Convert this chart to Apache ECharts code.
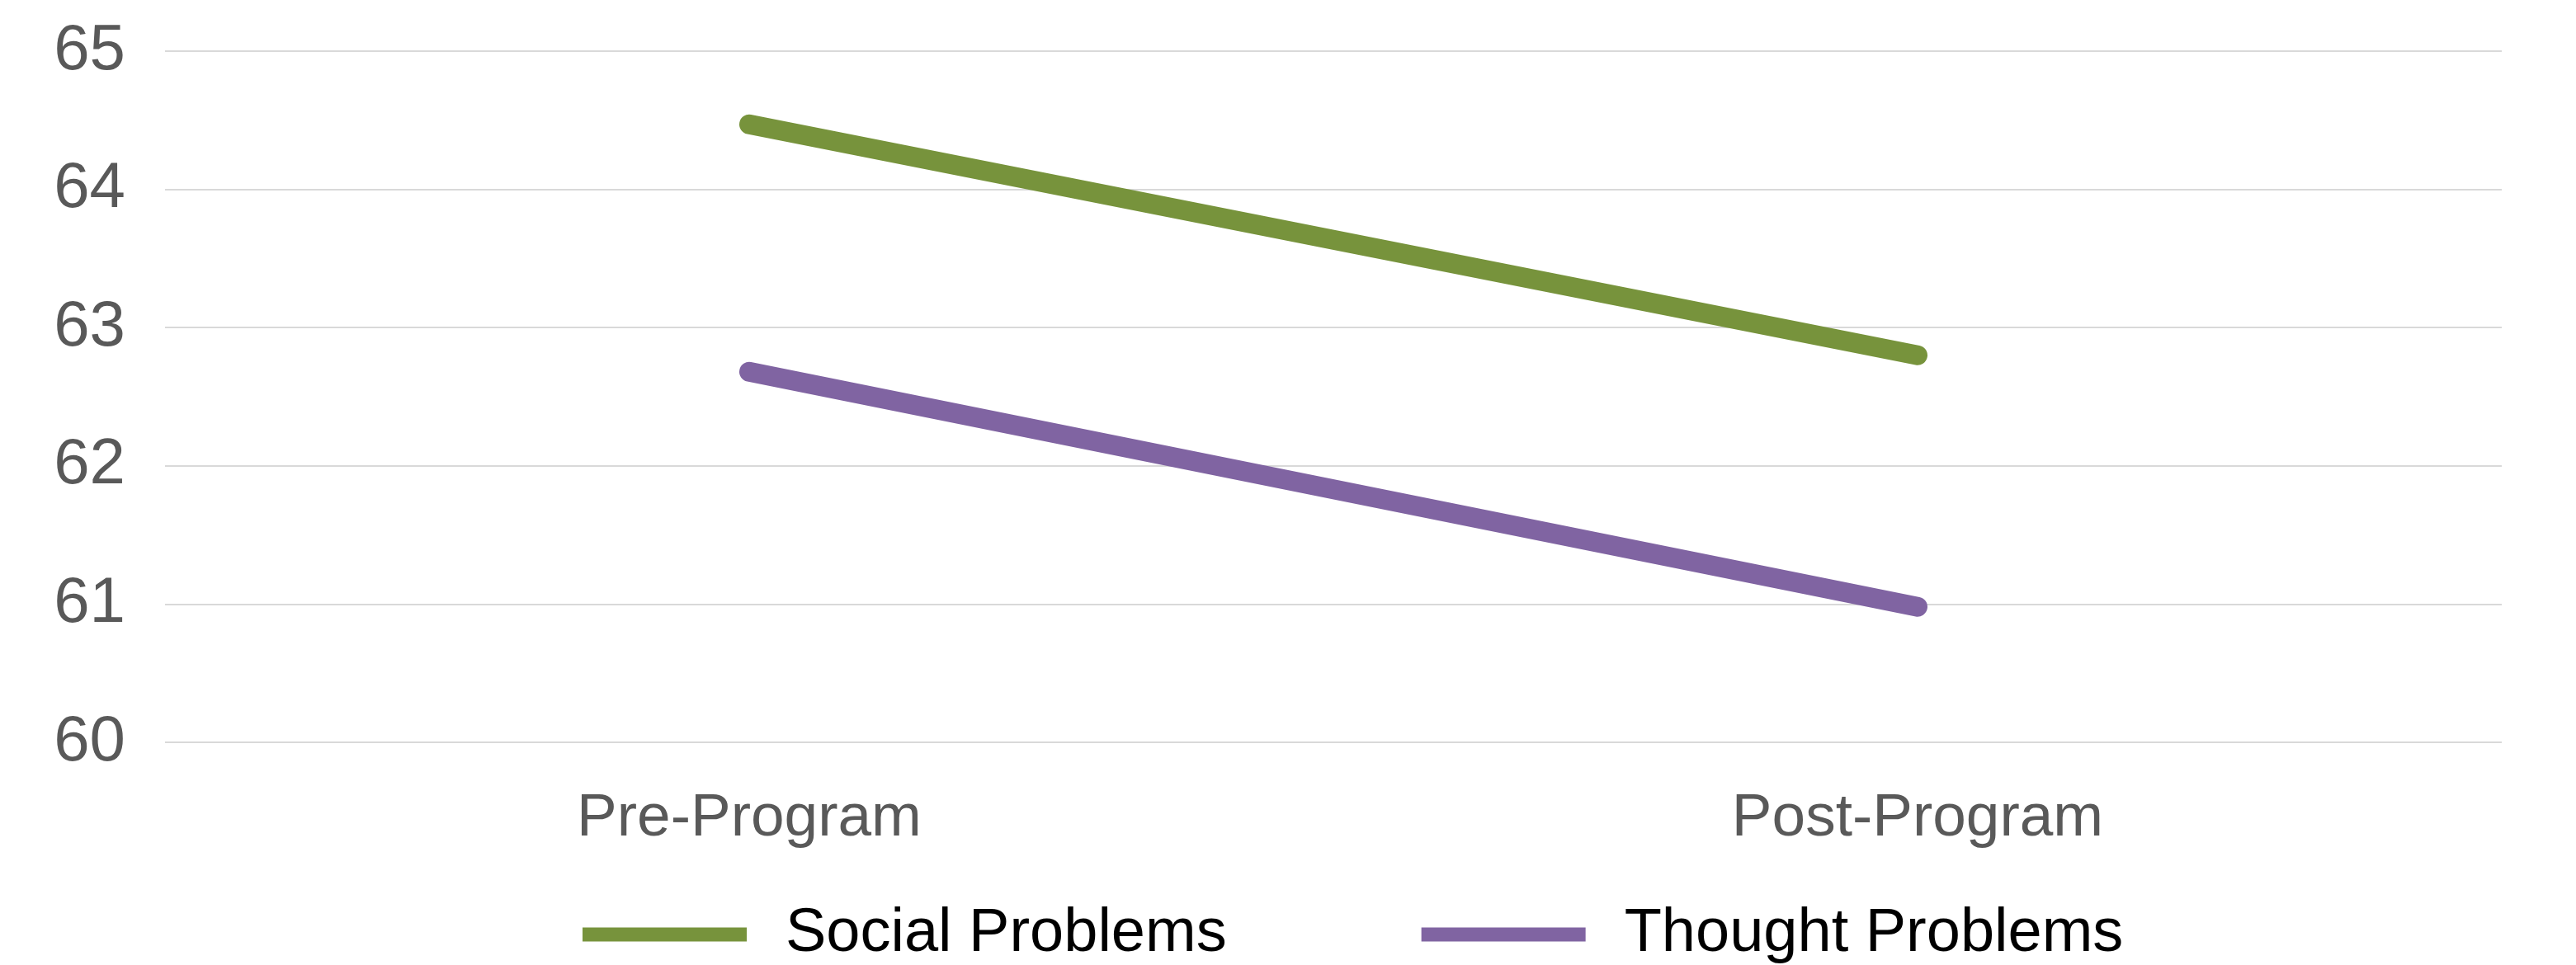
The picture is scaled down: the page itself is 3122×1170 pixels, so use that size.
<!DOCTYPE html>
<html>
<head>
<meta charset="utf-8">
<script src="https://cdn.jsdelivr.net/npm/echarts@6/dist/echarts.min.js"></script>
<style>
  html, body { margin: 0; padding: 0; background: #fff; }
  #chart { width: 3122px; height: 1170px; }
</style>
</head>
<body>
<div id="chart"></div>
<script>
var categories = ['Pre-Program', 'Post-Program'];
var socialProblems = [64.47, 62.8];
var thoughtProblems = [62.68, 60.98];
var seriesNames = ['Social Problems', 'Thought Problems'];

var fontFam = 'Arial, "Liberation Sans", sans-serif';
var myChart = echarts.init(document.getElementById('chart'));
var option = {
    backgroundColor: '#ffffff',
    color: ['#77933C', '#8064A2'],
    animation: false,
    grid: {
        left: 200,
        right: 90,
        top: 62,
        bottom: 270,
        containLabel: false
    },
    legend: {
        data: seriesNames,
        left: 706,
        top: 1096,
        padding: 0,
        icon: 'rect',
        itemWidth: 199,
        itemHeight: 17,
        itemGap: 236,
        textStyle: {
            color: '#000000',
            fontSize: 74,
            fontFamily: fontFam,
            padding: [0, 0, 0, 42]
        }
    },
    xAxis: {
        type: 'category',
        data: categories,
        boundaryGap: true,
        axisLine: { show: false },
        axisTick: { show: false },
        axisLabel: {
            color: '#595959',
            fontSize: 73,
            fontFamily: fontFam,
            margin: 56
        }
    },
    yAxis: {
        type: 'value',
        min: 60,
        max: 65,
        interval: 1,
        axisLine: { show: false },
        axisTick: { show: false },
        axisLabel: {
            color: '#595959',
            fontSize: 78,
            fontFamily: fontFam,
            margin: 48
        },
        splitLine: {
            lineStyle: { color: '#d9d9d9', width: 2 }
        }
    },
    series: [
        {
            name: seriesNames[0],
            type: 'line',
            data: socialProblems,
            symbol: 'none',
            lineStyle: { width: 24, cap: 'round', join: 'round' }
        },
        {
            name: seriesNames[1],
            type: 'line',
            data: thoughtProblems,
            symbol: 'none',
            lineStyle: { width: 24, cap: 'round', join: 'round' }
        }
    ]
};
myChart.setOption(option);
</script>
</body>
</html>
